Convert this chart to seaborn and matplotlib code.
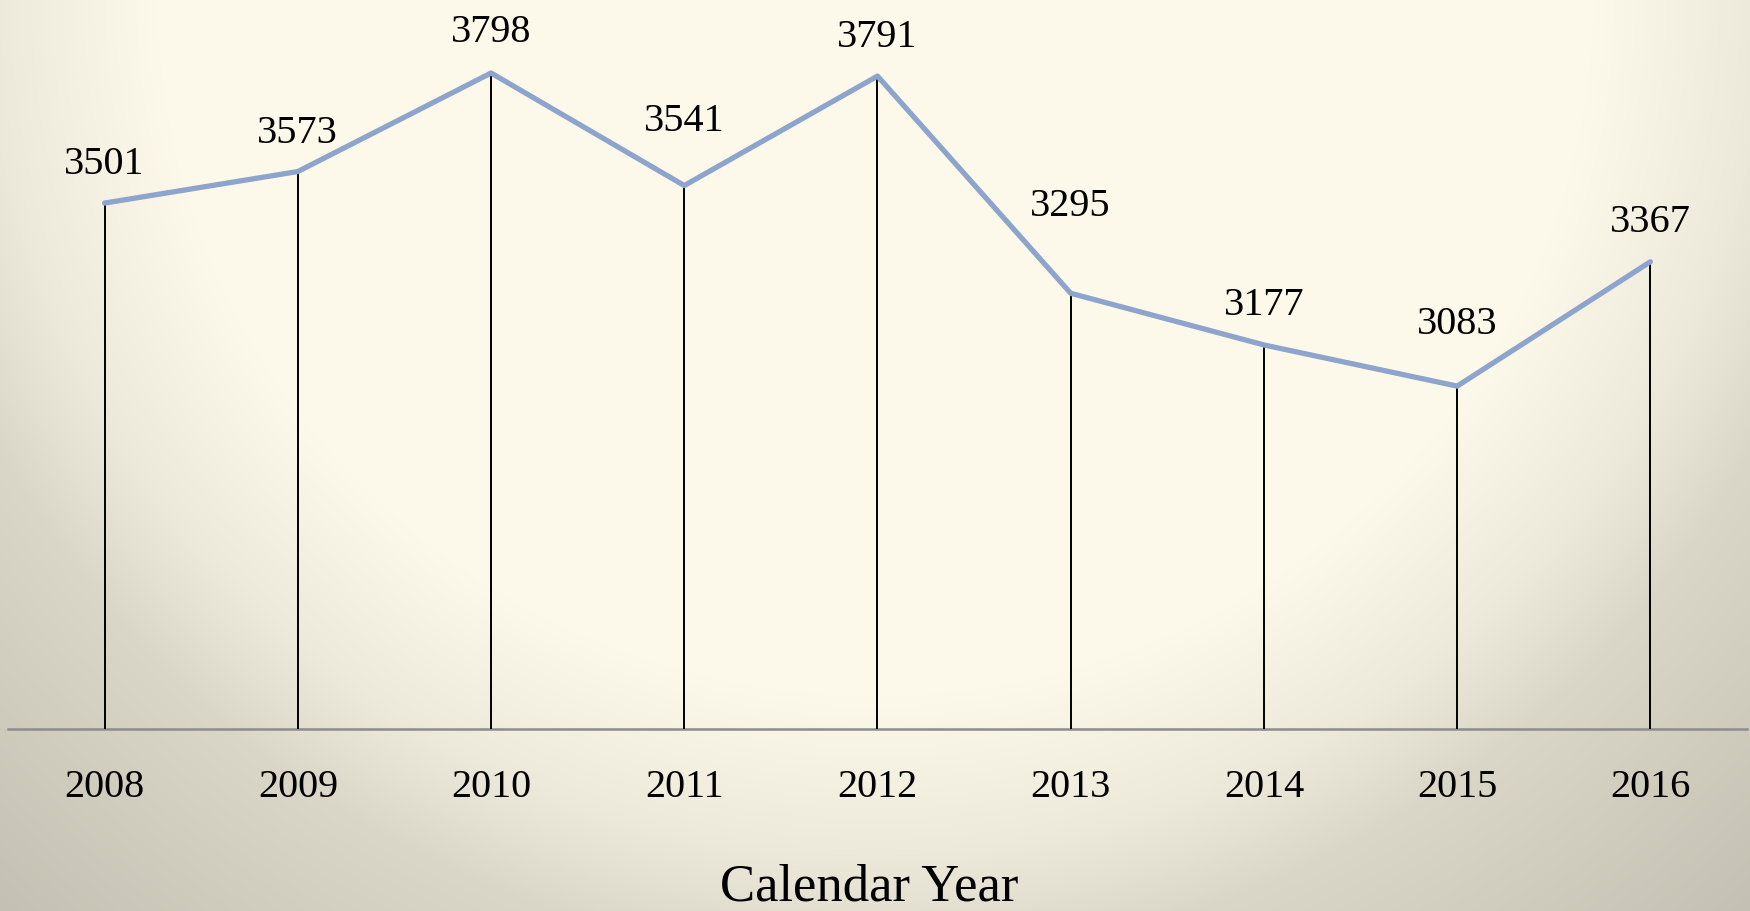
import numpy as np
import pandas as pd
import matplotlib
matplotlib.use("Agg")
import matplotlib.pyplot as plt
from matplotlib.colors import to_rgb
import seaborn as sns

years = ["2008", "2009", "2010", "2011", "2012", "2013", "2014", "2015", "2016"]
values = [3501, 3573, 3798, 3541, 3791, 3295, 3177, 3083, 3367]
x_title = "Calendar Year"

# label lift above each point (points) -- style, not data
label_lift = [22, 21, 23, 40, 22, 56, 22, 38, 22]

sns.set_theme(style="white")
plt.rcParams["font.family"] = ["Liberation Serif", "DejaVu Serif"]

W, H = 1750, 912
fig = plt.figure(figsize=(W / 100, H / 100), dpi=100)

# radial-ish gradient background
bg = fig.add_axes([0, 0, 1, 1], zorder=0)
yy, xx = np.mgrid[0:H, 0:W]
X = (xx - 0.5 * W) / (0.5 * W)
Y = yy / 850.0
d = np.sqrt(X ** 2 + Y ** 2)
nodes = [0.0, 0.82, 1.0, 1.073, 1.131, 1.466, 1.75]
cols = np.array([to_rgb(c) for c in ["#FCF9EA", "#FCF9EA", "#EDEADC", "#E3E0D2",
                                       "#DAD7C8", "#C4C1B4", "#B3AFA1"]])
img = np.dstack([np.interp(d, nodes, cols[:, i]) for i in range(3)])
bg.imshow(img, aspect="auto", extent=[0, 1, 0, 1], origin="upper")
bg.axis("off")

ax = fig.add_axes([8 / W, 1 - 730 / H, (1747 - 8) / W, 730 / H], zorder=1)
ax.patch.set_alpha(0)

df = pd.DataFrame({"year": years, "value": values})
pos = np.arange(len(years))
ax.vlines(pos, 2300, df["value"], colors="black", linewidth=1.4, zorder=2)
sns.lineplot(x=pos, y=df["value"], ax=ax, color="#8DA4CC", linewidth=3.8, sort=False, zorder=3)

for p, v, lift in zip(pos, values, label_lift):
    ax.annotate(f"{v}", (p, v), xytext=(0, lift), textcoords="offset points",
                ha="center", va="baseline", fontsize=29, color="black")

ax.set_xlim(-0.5, len(years) - 0.5)
ax.set_ylim(2300, 3967)
ax.set_xticks(pos)
ax.set_xticklabels(years, fontsize=29, color="black")
ax.tick_params(axis="x", length=0, pad=28)
ax.set_yticks([])
for s in ["top", "right", "left"]:
    ax.spines[s].set_visible(False)
ax.spines["bottom"].set_color("#8C8C8C")
ax.spines["bottom"].set_linewidth(1.8)
ax.spines["bottom"].set_zorder(1)
ax.set_ylabel("")
ax.set_xlabel(x_title, fontsize=38, color="black")
ax.xaxis.label.set_va("bottom")
ax.xaxis.set_label_coords(0.495, -0.248)

fig.savefig("out.png", dpi=100)
